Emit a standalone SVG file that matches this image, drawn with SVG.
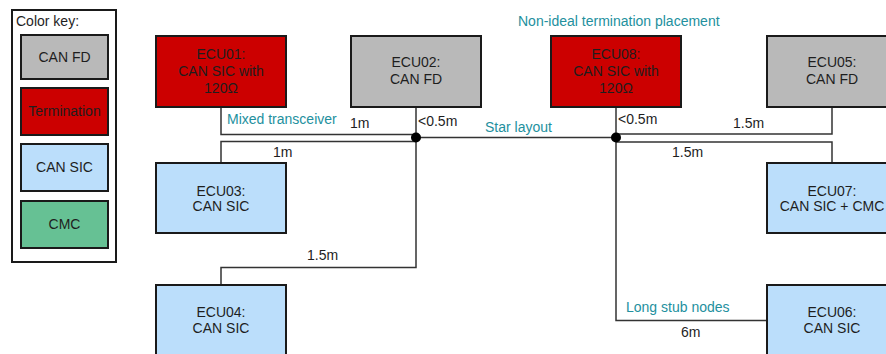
<svg xmlns="http://www.w3.org/2000/svg" width="886" height="354" viewBox="0 0 886 354">
<defs>
<style>
text{font-family:"Liberation Sans",Arial,sans-serif;font-size:14px;fill:#1e1e1e}
.box{stroke:#1a1a1a;stroke-width:2}
.fd{fill:#b9b9b9}
.term{fill:#cc0000}
.sic{fill:#bbdefb}
.cmc{fill:#66c194}
.c text,.n text{text-anchor:middle}
.lbl{fill:#23909e}
.w{fill:#1e1e1e}
.wire{fill:none;stroke:#333;stroke-width:1.5}
</style>
</defs>
<rect width="886" height="354" fill="#fff"/>
<g id="legend">
<rect x="12" y="10" width="104" height="252" fill="#fff" stroke="#1a1a1a" stroke-width="2"/>
<text x="16" y="26">Color key:</text>
<g class="c">
<rect class="box fd" x="21" y="35" width="87" height="44"/><text x="64.5" y="62">CAN FD</text>
<rect class="box term" x="21" y="88" width="87" height="47"/><text x="64.5" y="116">Termination</text>
<rect class="box sic" x="21" y="144" width="87" height="47"/><text x="64.5" y="171.5">CAN SIC</text>
<rect class="box cmc" x="21" y="201" width="87" height="47"/><text x="64.5" y="229">CMC</text>
</g>
</g>
<g id="connectors">
<polyline class="wire" points="221,107 221,134.5 416,134.5"/>
<polyline class="wire" points="221,163 221,141.5 416,141.5"/>
<line class="wire" x1="416" y1="107" x2="416" y2="137.5"/>
<line class="wire" x1="416" y1="137.5" x2="616" y2="137.5"/>
<polyline class="wire" points="416,137.5 416,267.5 221,267.5 221,285"/>
<line class="wire" x1="616" y1="107" x2="616" y2="137.5"/>
<polyline class="wire" points="616,134 832,134 832,107"/>
<polyline class="wire" points="616,142 832,142 832,163"/>
<polyline class="wire" points="616,137.5 616,320.5 767,320.5"/>
<circle cx="416" cy="137.5" r="5" fill="#000"/>
<circle cx="616" cy="137.5" r="5" fill="#000"/>
<text x="227" y="124" class="lbl">Mixed transceiver</text>
<text x="350" y="128" class="w">1m</text>
<text x="418" y="126" class="w">&lt;0.5m</text>
<text x="485" y="132" class="lbl">Star layout</text>
<text x="273" y="157" class="w">1m</text>
<text x="518" y="26" class="lbl">Non-ideal termination placement</text>
<text x="618" y="124" class="w">&lt;0.5m</text>
<text x="733" y="128" class="w">1.5m</text>
<text x="672" y="157" class="w">1.5m</text>
<text x="307" y="260" class="w">1.5m</text>
<text x="626" y="312" class="lbl">Long stub nodes</text>
<text x="681" y="337" class="w">6m</text>
</g>
<g id="ECU01" class="n"><rect class="box term" x="156" y="36" width="130" height="71"/><text x="221" y="59">ECU01:</text><text x="221" y="76">CAN SIC with</text><text x="221" y="93">120Ω</text></g>
<g id="ECU02" class="n"><rect class="box fd" x="351" y="36" width="130" height="71"/><text x="416" y="66.5">ECU02:</text><text x="416" y="84">CAN FD</text></g>
<g id="ECU08" class="n"><rect class="box term" x="551" y="36" width="130" height="71"/><text x="616" y="59">ECU08:</text><text x="616" y="76">CAN SIC with</text><text x="616" y="93">120Ω</text></g>
<g id="ECU05" class="n"><rect class="box fd" x="767" y="36" width="130" height="71"/><text x="832" y="66.5">ECU05:</text><text x="832" y="84">CAN FD</text></g>
<g id="ECU03" class="n"><rect class="box sic" x="156" y="163" width="130" height="70"/><text x="221" y="195.5">ECU03:</text><text x="221" y="211">CAN SIC</text></g>
<g id="ECU07" class="n"><rect class="box sic" x="767" y="163" width="130" height="70"/><text x="832" y="195.5">ECU07:</text><text x="832" y="211">CAN SIC + CMC</text></g>
<g id="ECU04" class="n"><rect class="box sic" x="156" y="285" width="130" height="71"/><text x="221" y="316.5">ECU04:</text><text x="221" y="332.5">CAN SIC</text></g>
<g id="ECU06" class="n"><rect class="box sic" x="767" y="285" width="130" height="71"/><text x="832" y="316.5">ECU06:</text><text x="832" y="332.5">CAN SIC</text></g>
</svg>
